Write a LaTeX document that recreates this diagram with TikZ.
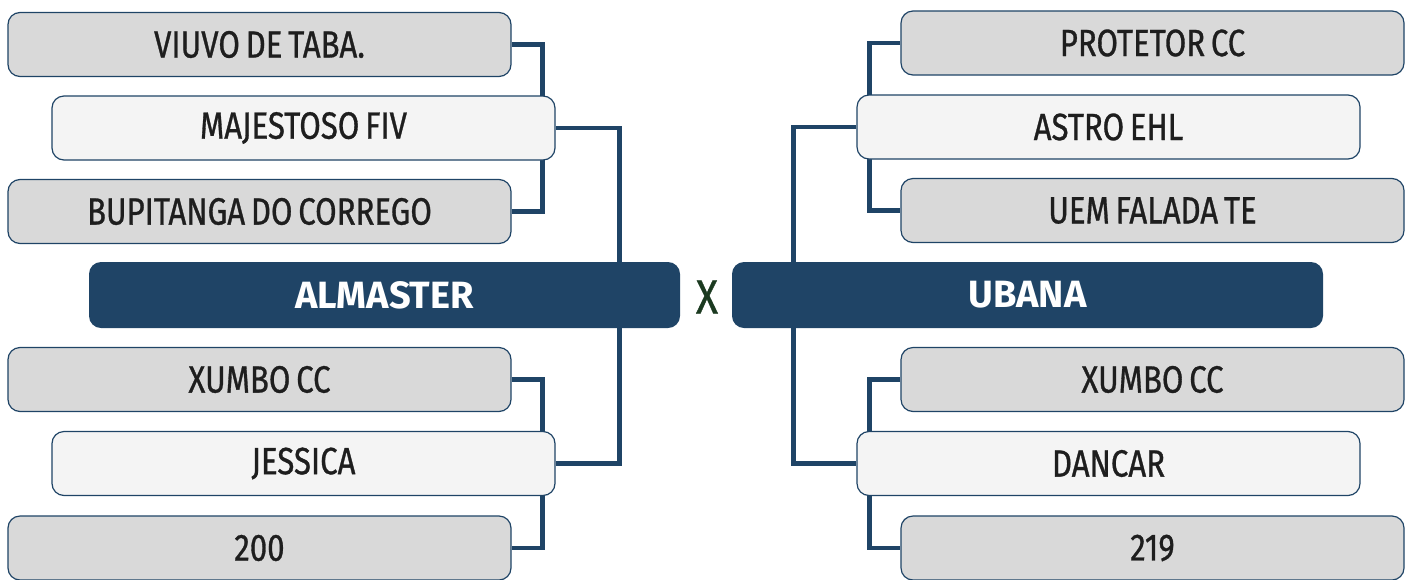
\documentclass[tikz,border=0pt]{standalone}
\usepackage{fontspec}
\usetikzlibrary{backgrounds}
\newfontfamily\boxfont[FakeStretch=0.82,FakeBold=0.8,WordSpace=0.7]{Fira Sans}
\newfontfamily\teamfont{Fira Sans}
\newfontfamily\vsfont[FakeStretch=0.85,FakeBold=0.8]{Fira Sans}
\definecolor{navy}{HTML}{1F4466}
\definecolor{boxgray}{HTML}{D9D9D9}
\definecolor{boxlight}{HTML}{F4F4F4}
\definecolor{inkgray}{HTML}{1E1E1E}
\definecolor{vsgreen}{HTML}{1B3A20}

\begin{document}
\begin{tikzpicture}[x=1pt,y=-1pt,
		outer/.style={draw=navy, line width=1.2pt, fill=boxgray, rounded corners=12pt, minimum width=503pt, minimum height=64pt, text=inkgray, font=\boxfont\fontsize{38}{44}\selectfont},
		inner/.style={outer, fill=boxlight},
		team/.style={fill=navy, rounded corners=12pt, minimum width=591pt, minimum height=66pt, text=white, font=\teamfont\bfseries\fontsize{38}{44}\selectfont},
		link/.style={draw=navy, line width=4.5pt}]
		\useasboundingbox (0,0) rectangle (1412,579);
		% left side
		\node[outer] (viuvo) at (259.5,44.5) {VIUVO DE TABA.};
		\node[inner] (majestoso) at (303.5,128) {MAJESTOSO FIV};
		\node[outer] (bupitanga) at (259.5,211.5) {BUPITANGA DO CORREGO};
		\node[team] (almaster) at (384.5,295) {ALMASTER};
		\node[outer] (xumboL) at (259.5,379.5) {XUMBO CC};
		\node[inner] (jessica) at (303.5,463.5) {JESSICA};
		\node[outer] (doiscentos) at (259.5,548) {200};
		% right side
		\node[outer] (protetor) at (1152.5,43) {PROTETOR CC};
		\node[inner] (astro) at (1108.5,127) {ASTRO EHL};
		\node[outer] (uem) at (1152.5,210.5) {UEM FALADA TE};
		\node[team] (ubana) at (1027.5,295) {UBANA};
		\node[outer] (xumboR) at (1152.5,379.5) {XUMBO CC};
		\node[inner] (dancar) at (1108.5,463.5) {DANCAR};
		\node[outer] (duzentos) at (1152.5,548) {219};
		\node[text=vsgreen, font=\vsfont\fontsize{48}{52}\selectfont] (versus) at (707,297) {X};
		\begin{pgfonlayer}{background}
		\draw[link] (viuvo.east) -- ++(31,0) |- (bupitanga.east);
		\draw[link] (xumboL.east) -- ++(31,0) |- (doiscentos.east);
		\draw[link] (majestoso.east) -- ++(64,0) |- (jessica.east);
		\draw[link] (protetor.west) -- ++(-31,0) |- (uem.west);
		\draw[link] (xumboR.west) -- ++(-31,0) |- (duzentos.west);
		\draw[link] (astro.west) -- ++(-63,0) |- (dancar.west);
		\end{pgfonlayer}
\end{tikzpicture}
\end{document}
